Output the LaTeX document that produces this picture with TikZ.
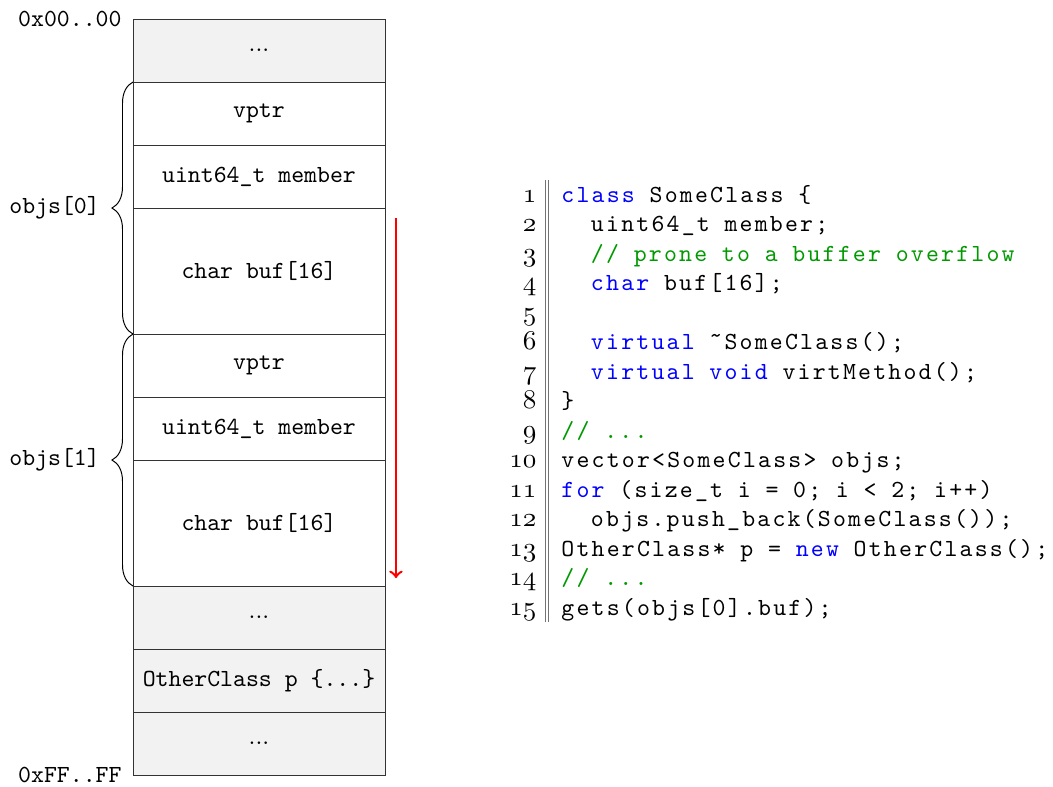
\documentclass[tikz,border=0pt]{standalone}
\usepackage{fontspec}
\usepackage{xcolor}
\usetikzlibrary{positioning,decorations.pathreplacing,calc}

\newfontfamily\codefont{lmmono10-regular}[Extension=.otf,LetterSpace=9]
\newcommand{\codeset}{\codefont\fontdimen2\font=6pt\fontdimen3\font=0pt\fontdimen4\font=0pt}
\definecolor{kwblue}{RGB}{0,0,255}
\definecolor{cmtgreen}{RGB}{0,153,0}
\newcommand{\kw}[1]{\textcolor{kwblue}{#1}}
\newcommand{\cmt}[1]{\textcolor{cmtgreen}{#1}}
\newcommand{\ind}{\hspace*{12pt}}

\begin{document}
\begin{tikzpicture}[
    memcell/.style={draw=black!80, minimum width=3.6cm, minimum height=0.9cm, inner sep=0pt, outer sep=0pt, font=\ttfamily},
    bufcell/.style={memcell, minimum height=1.8cm},
    gapcell/.style={memcell, fill=black!5, font=\rmfamily},
    addrlbl/.style={font=\ttfamily},
    objlbl/.style={left=0.35cm, font=\ttfamily},
    objbrace/.style={decorate, decoration={brace, amplitude=0.3cm}},
    numln/.style={anchor=base east, inner sep=0pt, scale=1.1},
    codeln/.style={anchor=base west, inner sep=0pt, font=\codeset}
]
\useasboundingbox (0,0) rectangle (15.043,11.243);

% Memory
\node[gapcell, anchor=north west] (topGap) at (1.9,10.971) {...};
\node[memcell, below=0pt of topGap] (vptrA) {vptr};
\node[memcell, below=0pt of vptrA] (memberA) {uint64\_t member};
\node[bufcell, below=0pt of memberA] (bufA) {char buf[16]};
\node[memcell, below=0pt of bufA] (vptrB) {vptr};
\node[memcell, below=0pt of vptrB] (memberB) {uint64\_t member};
\node[bufcell, below=0pt of memberB] (bufB) {char buf[16]};
\node[gapcell, below=0pt of bufB] (midGap) {...};
\node[gapcell, font=\ttfamily, below=0pt of midGap] (otherObj) {OtherClass p \{...\}};
\node[gapcell, below=0pt of otherObj] (endGap) {...};

% Addresses
\node[addrlbl, left=0.04cm of topGap.north west] (lowAddr) {0x00..00};
\node[addrlbl, left=0.04cm of endGap.south west] (highAddr) {0xFF..FF};

% Objects
\draw[objbrace] (bufA.south west) -- node[objlbl] (lblA) {objs[0]} (vptrA.north west);
\draw[objbrace] (bufB.south west) -- node[objlbl] (lblB) {objs[1]} (vptrB.north west);

% Overflow
\coordinate (ovfStart) at ($(bufA.north east)+(0.157,-0.143)$);
\coordinate (ovfEnd) at ($(bufB.south east)+(0.157,0.114)$);
\draw[red, line width=1pt, ->] (ovfStart) -- (ovfEnd);

% Listing
\coordinate (ruleTop) at (7.786,8.671);
\coordinate (ruleBot) at (7.786,2.357);
\draw[black!55] (ruleTop) -- (ruleBot);
\draw[black!55] ([xshift=1.6pt]ruleTop) -- ([xshift=1.6pt]ruleBot);
\foreach \i in {1,...,15}
    \node[numln] (n\i) at (7.671,{8.357-(\i-1)*0.4218}) {$\mathnormal{\i}$};

\node[codeln] (c1) at (8.014,8.357) {\kw{class} SomeClass \{};
\node[codeln] (c2) at (8.014,7.935) {\ind uint64\_t member;};
\node[codeln] (c3) at (8.014,7.513) {\ind\cmt{// prone to a buffer overflow}};
\node[codeln] (c4) at (8.014,7.092) {\ind\kw{char} buf[16];};
\node[codeln] (c6) at (8.014,6.248) {\ind\kw{virtual} \char"02DC SomeClass();};
\node[codeln] (c7) at (8.014,5.826) {\ind\kw{virtual} \kw{void} virtMethod();};
\node[codeln] (c8) at (8.014,5.404) {\}};
\node[codeln] (c9) at (8.014,4.983) {\cmt{// ...}};
\node[codeln] (c10) at (8.014,4.561) {vector<SomeClass> objs;};
\node[codeln] (c11) at (8.014,4.139) {\kw{for} (size\_t i = 0; i < 2; i++)};
\node[codeln] (c12) at (8.014,3.717) {\ind objs.push\_back(SomeClass());};
\node[codeln] (c13) at (8.014,3.295) {OtherClass* p = \kw{new} OtherClass();};
\node[codeln] (c14) at (8.014,2.873) {\cmt{// ...}};
\node[codeln] (c15) at (8.014,2.452) {gets(objs[0].buf);};

\end{tikzpicture}
\end{document}
